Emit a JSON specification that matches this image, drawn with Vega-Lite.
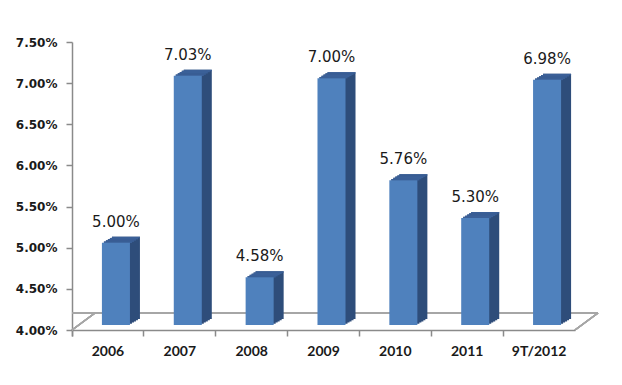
{
  "$schema": "https://vega.github.io/schema/vega-lite/v6.json",
  "autosize": "none",
  "width": 503,
  "height": 288,
  "padding": {"left": 72, "top": 42, "right": 47, "bottom": 55},
  "background": "white",
  "config": {
    "view": {"stroke": null},
    "axisX": {
      "domainColor": "#8a8a8a", "domainWidth": 1.5, "tickColor": "#8a8a8a", "tickWidth": 1.5, "tickSize": 6,
      "bandPosition": 0, "tickExtra": true, "labelAngle": 0,
      "labelFont": "Lato", "labelFontWeight": "bold", "labelFontSize": 14, "labelColor": "#1a1a1a", "labelPadding": 8,
      "grid": false
    },
    "axisY": {
      "domainColor": "#8a8a8a", "domainWidth": 1.5, "tickColor": "#8a8a8a", "tickWidth": 1.5, "tickSize": 6,
      "labelFont": "DejaVu Sans", "labelFontWeight": "bold", "labelFontSize": 12, "labelColor": "#1a1a1a", "labelPadding": 9,
      "grid": false, "values": [0.04, 0.045, 0.05, 0.055, 0.06, 0.065, 0.07, 0.075], "format": ".2%"
    }
  },
  "data": {"values": [
    {"year": "2006", "rate": 0.0500},
    {"year": "2007", "rate": 0.0703},
    {"year": "2008", "rate": 0.0458},
    {"year": "2009", "rate": 0.0700},
    {"year": "2010", "rate": 0.0576},
    {"year": "2011", "rate": 0.0530},
    {"year": "9T/2012", "rate": 0.0698}
  ]},
  "layer": [
    {
      "mark": {"type": "rule", "color": "#a6a6a6", "strokeWidth": 1.5, "xOffset": 23, "x2Offset": 23, "yOffset": -17},
      "encoding": {"y": {"datum": 0.04, "type": "quantitative", "title": null, "scale": {"domain": [0.04, 0.075], "nice": false, "zero": false}}}
    },
    {
      "mark": {"type": "rule", "color": "#a6a6a6", "strokeWidth": 1.5, "x2Offset": 23, "y2Offset": -17},
      "encoding": {
        "x": {"datum": "2006", "type": "nominal", "bandPosition": 0, "title": null, "scale": {"domain": ["2006", "2007", "2008", "2009", "2010", "2011", "9T/2012"], "paddingInner": 0, "paddingOuter": 0}},
        "x2": {"datum": "2006", "bandPosition": 0},
        "y": {"datum": 0.04, "type": "quantitative", "title": null},
        "y2": {"datum": 0.04}
      }
    },
    {
      "mark": {"type": "rule", "color": "#a6a6a6", "strokeWidth": 1.5, "x2Offset": 23, "y2Offset": -17},
      "encoding": {
        "x": {"datum": "9T/2012", "type": "nominal", "bandPosition": 1, "title": null},
        "x2": {"datum": "9T/2012", "bandPosition": 1},
        "y": {"datum": 0.04, "type": "quantitative", "title": null},
        "y2": {"datum": 0.04}
      }
    },
    {
      "mark": {"type": "bar", "color": "#2e4d7a", "width": {"band": 0.39}, "xOffset": 10, "x2Offset": 10, "yOffset": -6.2, "y2Offset": -6.2},
      "encoding": {
        "x": {"field": "year", "type": "nominal", "sort": null, "title": null},
        "y": {"field": "rate", "type": "quantitative", "title": null},
        "y2": {"datum": 0.04}
      }
    },
    {
      "mark": {"type": "bar", "color": "#2e4d7a", "width": {"band": 0.39}, "xOffset": 12, "x2Offset": 12, "yOffset": -7.4, "y2Offset": -7.4},
      "encoding": {
        "x": {"field": "year", "type": "nominal", "sort": null, "title": null},
        "y": {"field": "rate", "type": "quantitative", "title": null},
        "y2": {"datum": 0.04}
      }
    },
    {
      "mark": {"type": "bar", "color": "#2e4d7a", "width": {"band": 0.39}, "xOffset": 14, "x2Offset": 14, "yOffset": -8.6, "y2Offset": -8.6},
      "encoding": {
        "x": {"field": "year", "type": "nominal", "sort": null, "title": null},
        "y": {"field": "rate", "type": "quantitative", "title": null},
        "y2": {"datum": 0.04}
      }
    },
    {
      "mark": {"type": "bar", "color": "#2e4d7a", "width": {"band": 0.39}, "xOffset": 16, "x2Offset": 16, "yOffset": -9.8, "y2Offset": -9.8},
      "encoding": {
        "x": {"field": "year", "type": "nominal", "sort": null, "title": null},
        "y": {"field": "rate", "type": "quantitative", "title": null},
        "y2": {"datum": 0.04}
      }
    },
    {
      "mark": {"type": "bar", "color": "#2e4d7a", "width": {"band": 0.39}, "xOffset": 18, "x2Offset": 18, "yOffset": -11, "y2Offset": -11},
      "encoding": {
        "x": {"field": "year", "type": "nominal", "sort": null, "title": null},
        "y": {"field": "rate", "type": "quantitative", "title": null},
        "y2": {"datum": 0.04}
      }
    },
    {
      "mark": {"type": "bar", "color": "#3b6098", "width": {"band": 0.39}, "xOffset": 10, "yOffset": -6.2, "y2Offset": -4.7},
      "encoding": {
        "x": {"field": "year", "type": "nominal", "sort": null, "title": null},
        "y": {"field": "rate", "type": "quantitative", "title": null},
        "y2": {"field": "rate"}
      }
    },
    {
      "mark": {"type": "bar", "color": "#3b6098", "width": {"band": 0.39}, "xOffset": 12, "yOffset": -7.4, "y2Offset": -5.9},
      "encoding": {
        "x": {"field": "year", "type": "nominal", "sort": null, "title": null},
        "y": {"field": "rate", "type": "quantitative", "title": null},
        "y2": {"field": "rate"}
      }
    },
    {
      "mark": {"type": "bar", "color": "#3b6098", "width": {"band": 0.39}, "xOffset": 14, "yOffset": -8.6, "y2Offset": -7.1},
      "encoding": {
        "x": {"field": "year", "type": "nominal", "sort": null, "title": null},
        "y": {"field": "rate", "type": "quantitative", "title": null},
        "y2": {"field": "rate"}
      }
    },
    {
      "mark": {"type": "bar", "color": "#3b6098", "width": {"band": 0.39}, "xOffset": 16, "yOffset": -9.8, "y2Offset": -8.3},
      "encoding": {
        "x": {"field": "year", "type": "nominal", "sort": null, "title": null},
        "y": {"field": "rate", "type": "quantitative", "title": null},
        "y2": {"field": "rate"}
      }
    },
    {
      "mark": {"type": "bar", "color": "#3b6098", "width": {"band": 0.39}, "xOffset": 18, "yOffset": -11, "y2Offset": -9.5},
      "encoding": {
        "x": {"field": "year", "type": "nominal", "sort": null, "title": null},
        "y": {"field": "rate", "type": "quantitative", "title": null},
        "y2": {"field": "rate"}
      }
    },
    {
      "mark": {"type": "bar", "color": "#4f81bd", "width": {"band": 0.39}, "xOffset": 8, "x2Offset": 8, "yOffset": -5, "y2Offset": -5},
      "encoding": {
        "x": {"field": "year", "type": "nominal", "sort": null, "title": null},
        "y": {"field": "rate", "type": "quantitative", "title": null},
        "y2": {"datum": 0.04}
      }
    },
    {
      "mark": {"type": "text", "font": "DejaVu Sans", "fontSize": 15, "color": "#1a1a1a", "baseline": "middle", "align": "center", "xOffset": 8, "dy": -26},
      "encoding": {
        "x": {"field": "year", "type": "nominal", "sort": null, "title": null},
        "y": {"field": "rate", "type": "quantitative", "title": null},
        "text": {"field": "rate", "type": "quantitative", "format": ".2%"}
      }
    }
  ]
}
